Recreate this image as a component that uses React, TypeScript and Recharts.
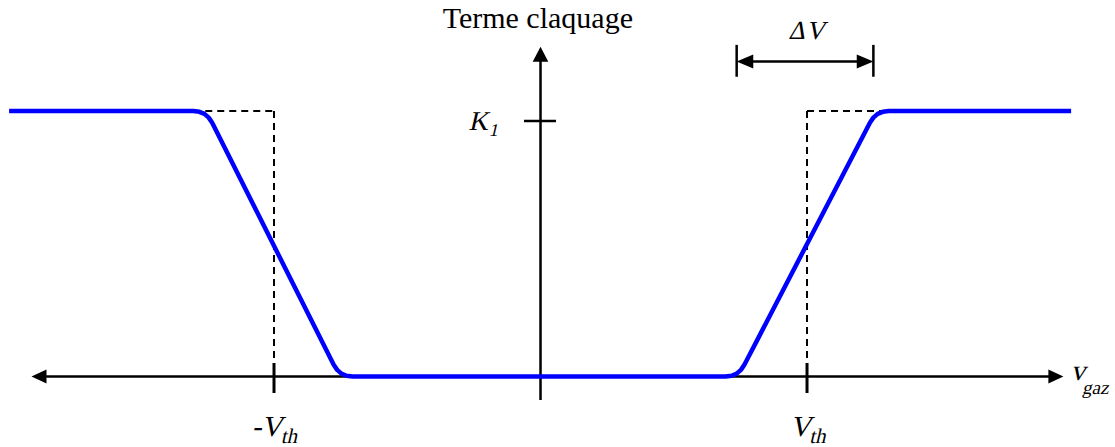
import React from 'react';
import { LineChart, Line, XAxis, YAxis, ReferenceLine, ReferenceDot } from 'recharts';

// Gas speed (in units of V_th) and breakdown term (in units of K1)
const curveX = [-1.994, -1.303, -1.28, -1.261, -1.245, -1.232, -0.776, -0.763, -0.747, -0.728, -0.705, 0.694, 0.717, 0.736, 0.752, 0.765, 1.236, 1.249, 1.265, 1.284, 1.307, 1.991];
const curveY = [1, 1, 0.997, 0.989, 0.975, 0.956, 0.044, 0.025, 0.011, 0.003, 0, 0, 0.003, 0.011, 0.025, 0.044, 0.956, 0.975, 0.989, 0.997, 1, 1];
const curve = curveX.map((x, i) => ({ x, y: curveY[i] }));

const thresholds = [-1, 1];          // -V_th, V_th
const thresholdLabels = ['-V', 'V'];
const plateau = 1;                   // K1 level of the ideal step
const stepEdges = [-1.303, 1.307];   // where the dashed step meets the curve
const k1Tick = 0.962;
const deltaV = [0.736, 1.249];       // ΔV dimension extent
const deltaVLevel = 1.186;
const xAxisEnds = [-1.91, 1.962];
const yAxisEnds = [-0.0885, 1.242];

const FONT = '"Liberation Serif", serif';
const SKEW = -13;

const arrowLeft = (len: number, half: number) => (p: any) => (
  <path d={`M${p.cx},${p.cy} L${p.cx + len},${p.cy - half} L${p.cx + len},${p.cy + half} Z`} fill="#000" />
);
const arrowRight = (len: number, half: number) => (p: any) => (
  <path d={`M${p.cx},${p.cy} L${p.cx - len},${p.cy - half} L${p.cx - len},${p.cy + half} Z`} fill="#000" />
);
const arrowUp = (len: number, half: number) => (p: any) => (
  <path d={`M${p.cx},${p.cy} L${p.cx - half},${p.cy + len} L${p.cx + half},${p.cy + len} Z`} fill="#000" />
);

const titleShape = (p: any) => (
  <text x={p.cx} y={p.cy} textAnchor="middle" fontFamily={FONT} fontSize={30} fill="#000">Terme claquage</text>
);
const deltaShape = (p: any) => (
  <g transform={`translate(${p.cx},${p.cy}) skewX(${SKEW})`}>
    <text x={0} y={0} textAnchor="middle" fontFamily={FONT} fontSize={26} fill="#000" letterSpacing={1}>ΔV</text>
  </g>
);
const k1Shape = (p: any) => (
  <g transform={`translate(${p.cx},${p.cy}) skewX(${SKEW})`}>
    <text x={0} y={0} textAnchor="start" fontFamily={FONT} fontSize={27} fill="#000">
      K<tspan fontSize={18} dy={6} dx={2}>1</tspan>
    </text>
  </g>
);
const vthShape = (label: string) => (p: any) => (
  <g transform={`translate(${p.cx},${p.cy}) skewX(${SKEW})`}>
    <text x={0} y={0} textAnchor="start" fontFamily={FONT} fontSize={29} fill="#000">
      {label}<tspan fontSize={21} dy={7}>th</tspan>
    </text>
  </g>
);
const vgazShape = (p: any) => (
  <g transform={`translate(${p.cx},${p.cy}) skewX(${SKEW})`}>
    <text x={0} y={0} textAnchor="start" fontFamily={FONT} fontSize={29} fill="#000">
      v<tspan fontSize={19} dy={14}>gaz</tspan>
    </text>
  </g>
);

export default function App() {
  return (
    <div style={{ position: 'fixed', left: 0, top: 0, width: 1115, height: 447, background: '#fff' }}>
      <LineChart width={1115} height={447} data={curve} margin={{ top: 4.8, right: 1.5, bottom: 4.1, left: 2.17 }}>
        <XAxis type="number" dataKey="x" domain={[-2.02, 2.15]} allowDataOverflow hide />
        <YAxis type="number" domain={[-0.25, 1.4]} allowDataOverflow hide />

        {/* dashed ideal step */}
        <ReferenceLine ifOverflow="visible" segment={[{ x: stepEdges[0], y: plateau }, { x: thresholds[0], y: plateau }]} stroke="#000" strokeWidth={2} strokeDasharray="7 5" />
        <ReferenceLine ifOverflow="visible" segment={[{ x: thresholds[0], y: plateau }, { x: thresholds[0], y: 0 }]} stroke="#000" strokeWidth={2} strokeDasharray="7 5" />
        <ReferenceLine ifOverflow="visible" segment={[{ x: thresholds[1], y: plateau }, { x: stepEdges[1], y: plateau }]} stroke="#000" strokeWidth={2} strokeDasharray="7 5" />
        <ReferenceLine ifOverflow="visible" segment={[{ x: thresholds[1], y: plateau }, { x: thresholds[1], y: 0 }]} stroke="#000" strokeWidth={2} strokeDasharray="7 5" />

        {/* axes */}
        <ReferenceLine ifOverflow="visible" segment={[{ x: xAxisEnds[0] + 0.04, y: 0 }, { x: xAxisEnds[1] - 0.04, y: 0 }]} stroke="#000" strokeWidth={2.5} />
        <ReferenceLine ifOverflow="visible" segment={[{ x: 0, y: yAxisEnds[0] }, { x: 0, y: yAxisEnds[1] - 0.04 }]} stroke="#000" strokeWidth={2.5} />
        <ReferenceDot ifOverflow="visible" x={xAxisEnds[0]} y={0} r={1} shape={arrowLeft(15, 7)} />
        <ReferenceDot ifOverflow="visible" x={xAxisEnds[1]} y={0} r={1} shape={arrowRight(15, 7)} />
        <ReferenceDot ifOverflow="visible" x={0} y={yAxisEnds[1]} r={1} shape={arrowUp(15, 7.8)} />

        {/* ticks */}
        {thresholds.map((t) => (
          <ReferenceLine key={`t${t}`} ifOverflow="visible" segment={[{ x: t, y: 0.051 }, { x: t, y: -0.062 }]} stroke="#000" strokeWidth={3} />
        ))}
        <ReferenceLine ifOverflow="visible" segment={[{ x: -0.062, y: k1Tick }, { x: 0.058, y: k1Tick }]} stroke="#000" strokeWidth={2.5} />

        {/* ΔV dimension */}
        <ReferenceLine ifOverflow="visible" segment={[{ x: deltaV[0], y: 1.249 }, { x: deltaV[0], y: 1.129 }]} stroke="#000" strokeWidth={2.5} />
        <ReferenceLine ifOverflow="visible" segment={[{ x: deltaV[1], y: 1.249 }, { x: deltaV[1], y: 1.129 }]} stroke="#000" strokeWidth={2.5} />
        <ReferenceLine ifOverflow="visible" segment={[{ x: deltaV[0] + 0.04, y: deltaVLevel }, { x: deltaV[1] - 0.04, y: deltaVLevel }]} stroke="#000" strokeWidth={2.5} />
        <ReferenceDot ifOverflow="visible" x={deltaV[0]} y={deltaVLevel} r={1} shape={arrowLeft(16.6, 7)} />
        <ReferenceDot ifOverflow="visible" x={deltaV[1]} y={deltaVLevel} r={1} shape={arrowRight(16.6, 7)} />

        {/* labels */}
        <ReferenceDot ifOverflow="visible" x={-0.01} y={1.3115} r={1} shape={titleShape} />
        <ReferenceDot ifOverflow="visible" x={1.0} y={1.27} r={1} shape={deltaShape} />
        <ReferenceDot ifOverflow="visible" x={-0.27} y={0.928} r={1} shape={k1Shape} />
        <ReferenceDot ifOverflow="visible" x={-1.0837} y={-0.224} r={1} shape={vthShape(thresholdLabels[0])} />
        <ReferenceDot ifOverflow="visible" x={0.936} y={-0.224} r={1} shape={vthShape(thresholdLabels[1])} />
        <ReferenceDot ifOverflow="visible" x={1.99} y={-0.0132} r={1} shape={vgazShape} />

        <Line type="linear" dataKey="y" stroke="#0000ff" strokeWidth={4.5} strokeLinejoin="round" dot={false} activeDot={false} isAnimationActive={false} />
      </LineChart>
    </div>
  );
}
